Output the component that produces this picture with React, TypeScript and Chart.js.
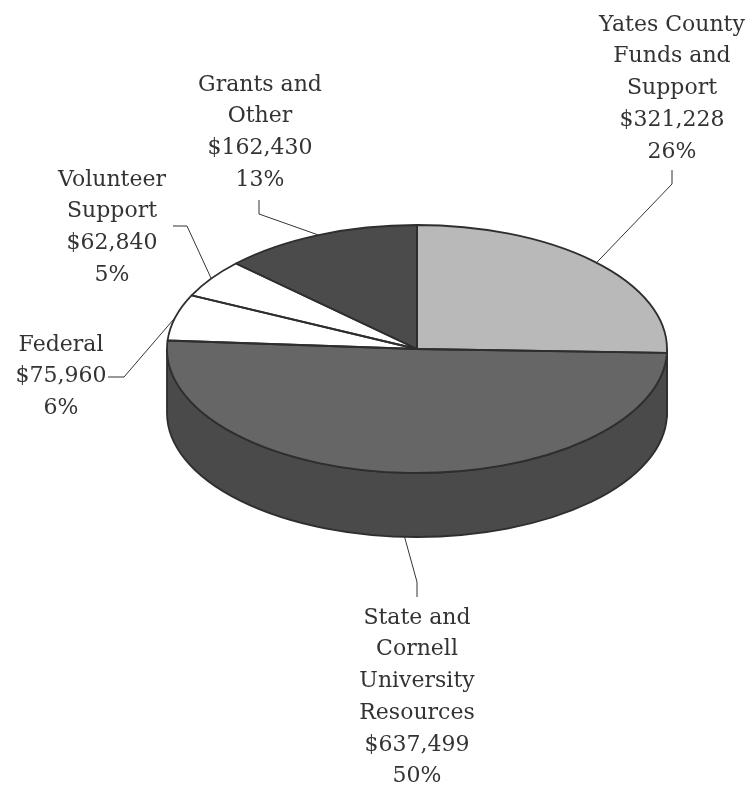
import React, { useEffect, useRef } from "react";
import { Chart, registerables } from "chart.js";

Chart.register(...registerables);

// ---- data ----
const categories: string[][] = [
  ["Yates County", "Funds and", "Support"],
  ["State and", "Cornell", "University", "Resources"],
  ["Federal"],
  ["Volunteer", "Support"],
  ["Grants and", "Other"],
];
const amounts: number[] = [321228, 637499, 75960, 62840, 162430];
const percentLabels: string[] = ["26%", "50%", "6%", "5%", "13%"];

// ---- styles ----
const topColors = ["#b9b9b9", "#666666", "#ffffff", "#ffffff", "#4b4b4b"];
const sideColors = ["#8f8f8f", "#4a4a4a", "#d9d9d9", "#d9d9d9", "#333333"];
const OUTLINE = "#2e2e2e";
const TEXT_COLOR = "#333333";
const FONT = "22px 'DejaVu Serif', serif";
const TILT = 0.496; // vertical squash of the pie top
const DEPTH = 64; // thickness of the pie
const LINE_H = 31.7;

// label placement (layout only)
const labelLayout = [
  { cx: 672, y0: 25, elbow: [[672, 170], [672, 184]], front: false },
  { cx: 417, y0: 618, elbow: [[417, 597], [417, 582]], front: true },
  { cx: 61, y0: 345, elbow: [[108, 377], [124, 377]], front: false },
  { cx: 112, y0: 180, elbow: [[173, 226], [187, 226]], front: false },
  { cx: 260, y0: 85, elbow: [[259, 200], [259, 214]], front: false },
];

const pie3d = {
  id: "pie3d",
  beforeDatasetsDraw(chart: any) {
    const ctx: CanvasRenderingContext2D = chart.ctx;
    const arcs = chart.getDatasetMeta(0).data;
    const p0 = arcs[0].getProps(["x", "y", "outerRadius"], true);
    const cx = p0.x, cy = p0.y, R = p0.outerRadius;
    const ry = R * TILT;
    ctx.save();
    ctx.lineWidth = 1.8;
    ctx.strokeStyle = OUTLINE;
    ctx.lineJoin = "round";
    arcs.forEach((arc: any, i: number) => {
      const p = arc.getProps(["startAngle", "endAngle"], true);
      for (const k of [-1, 0, 1]) {
        const off = k * 2 * Math.PI;
        const a = Math.max(p.startAngle, off);
        const b = Math.min(p.endAngle, off + Math.PI);
        if (b > a) {
          ctx.beginPath();
          ctx.ellipse(cx, cy, R, ry, 0, a, b, false);
          ctx.lineTo(cx + R * Math.cos(b), cy + ry * Math.sin(b) + DEPTH);
          ctx.ellipse(cx, cy + DEPTH, R, ry, 0, b, a, true);
          ctx.closePath();
          ctx.fillStyle = sideColors[i];
          ctx.fill();
          ctx.stroke();
        }
      }
    });
    ctx.restore();
    ctx.save();
    ctx.translate(0, cy);
    ctx.scale(1, TILT);
    ctx.translate(0, -cy);
  },
  afterDatasetsDraw(chart: any) {
    const ctx: CanvasRenderingContext2D = chart.ctx;
    ctx.restore();
    const arcs = chart.getDatasetMeta(0).data;
    const p0 = arcs[0].getProps(["x", "y", "outerRadius"], true);
    const cx = p0.x, cy = p0.y, R = p0.outerRadius;
    const ry = R * TILT;
    ctx.save();
    ctx.lineWidth = 1.8;
    ctx.strokeStyle = OUTLINE;
    ctx.lineJoin = "round";
    arcs.forEach((arc: any) => {
      const p = arc.getProps(["startAngle", "endAngle"], true);
      ctx.beginPath();
      ctx.moveTo(cx, cy);
      ctx.ellipse(cx, cy, R, ry, 0, p.startAngle, p.endAngle, false);
      ctx.closePath();
      ctx.stroke();
    });
    ctx.restore();
  },
  afterDraw(chart: any) {
    const ctx: CanvasRenderingContext2D = chart.ctx;
    const arcs = chart.getDatasetMeta(0).data;
    const p0 = arcs[0].getProps(["x", "y", "outerRadius"], true);
    const cx = p0.x, cy = p0.y, R = p0.outerRadius;
    const ry = R * TILT;
    ctx.save();
    ctx.font = FONT;
    ctx.fillStyle = TEXT_COLOR;
    ctx.textAlign = "center";
    ctx.textBaseline = "middle";
    ctx.strokeStyle = "#333333";
    ctx.lineWidth = 1;
    arcs.forEach((arc: any, i: number) => {
      const L = labelLayout[i];
      const p = arc.getProps(["startAngle", "endAngle"], true);
      const mid = (p.startAngle + p.endAngle) / 2;
      const ax = cx + R * Math.cos(mid);
      const ay = cy + ry * Math.sin(mid) + (L.front ? DEPTH : 0);
      const lines = [
        ...categories[i],
        "$" + amounts[i].toLocaleString("en-US"),
        percentLabels[i],
      ];
      lines.forEach((t, j) => ctx.fillText(t, L.cx, L.y0 + j * LINE_H));
      ctx.beginPath();
      ctx.moveTo(L.elbow[0][0], L.elbow[0][1]);
      ctx.lineTo(L.elbow[1][0], L.elbow[1][1]);
      ctx.lineTo(ax, ay);
      ctx.stroke();
    });
    ctx.restore();
  },
};

export default function App() {
  const ref = useRef<HTMLCanvasElement | null>(null);
  useEffect(() => {
    document.body.style.margin = "0";
    const canvas = ref.current;
    if (!canvas) return;
    const chart = new Chart(canvas, {
      type: "pie",
      data: {
        labels: categories.map((c) => c.join(" ")),
        datasets: [
          {
            data: amounts,
            backgroundColor: topColors,
            borderWidth: 0,
            hoverOffset: 0,
            radius: 250,
          } as any,
        ],
      },
      options: {
        responsive: false,
        devicePixelRatio: 1,
        animation: false,
        events: [],
        layout: { padding: { left: 167, right: 86, top: 99, bottom: 186 } },
        plugins: { legend: { display: false }, tooltip: { enabled: false } },
      },
      plugins: [pie3d],
    });
    return () => chart.destroy();
  }, []);
  return (
    <div style={{ width: 753, height: 785, background: "#fff" }}>
      <canvas ref={ref} width={753} height={785} style={{ display: "block" }} />
    </div>
  );
}
